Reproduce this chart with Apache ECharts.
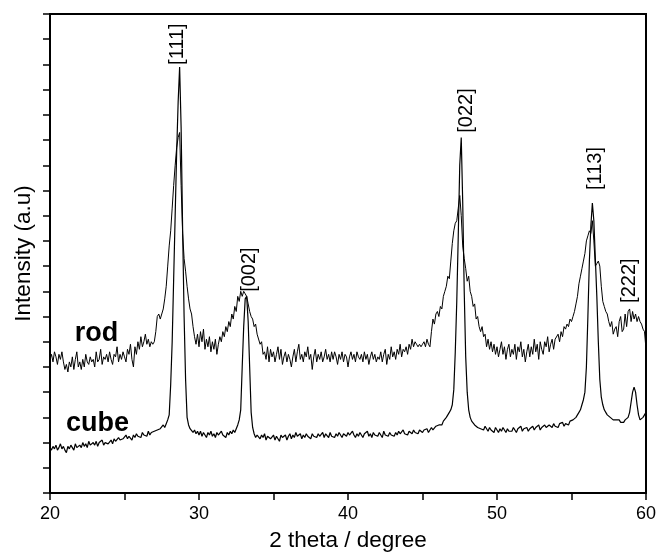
<!DOCTYPE html>
<html>
<head>
<meta charset="utf-8">
<script src="https://cdn.jsdelivr.net/npm/echarts@6/dist/echarts.min.js"></script>
<style>
  html, body { margin: 0; padding: 0; background: #fff; }
  #main { width: 658px; height: 555px; }
</style>
</head>
<body>
<div id="main"></div>
<script>
// scan grid: 2theta from 20 to 60 deg, 0.1 deg step
var thetaStart = 20, thetaStep = 0.1;

// rod pattern (a.u.), one row per degree
var rod = [
  5.3, 5.5, 5.2, 5.6, 5.4, 5.1, 5.5, 5.3, 5.6, 5.2,
  4.9, 5.1, 4.8, 5.2, 5.0, 5.4, 4.9, 5.3, 5.6, 5.0,
  5.2, 4.9, 5.3, 5.0, 5.5, 5.2, 5.1, 5.4, 5.2, 5.3,
  5.0, 5.6, 5.2, 5.3, 5.7, 5.1, 5.4, 5.3, 5.5, 5.2,
  5.6, 5.3, 5.1, 5.5, 5.4, 5.8, 5.2, 5.5, 5.3, 5.6,
  5.4, 5.2, 5.7, 5.5, 5.9, 5.3, 5.0, 5.8, 5.5, 6.0,
  5.7, 6.2, 5.8, 6.0, 6.3, 5.9, 6.1, 5.8, 6.0, 5.9,
  6.0, 6.4, 7.0, 7.1, 6.9, 7.1, 7.3, 7.7, 8.2, 9.0,
  9.8, 10.4, 11.3, 12.2, 13.0, 13.7, 14.1, 14.3, 12.2, 10.3,
  9.3, 8.8, 8.2, 7.7, 7.3, 7.1, 6.6, 6.2, 5.9, 6.3,
  5.8, 6.4, 6.0, 6.5, 5.7, 6.1, 5.8, 6.2, 5.6, 6.0,
  5.7, 6.1, 5.5, 5.9, 6.2, 6.0, 6.4, 6.2, 6.6, 6.4,
  6.8, 6.6, 7.1, 6.9, 7.4, 7.2, 7.8, 7.6, 8.0, 7.8,
  8.0, 7.9, 7.8, 7.5, 7.2, 7.0, 6.9, 6.6, 6.7, 6.3,
  6.3, 5.9, 6.0, 5.5, 5.6, 5.3, 5.8, 5.2, 5.7, 5.4,
  5.6, 5.2, 5.5, 5.8, 5.3, 5.7, 5.1, 5.4, 5.6, 5.2,
  5.5, 5.3, 5.0, 5.4, 5.7, 5.2, 5.6, 5.9, 5.3, 5.5,
  5.2, 5.6, 5.4, 5.8, 5.3, 5.5, 4.9, 5.4, 5.7, 5.2,
  5.5, 5.3, 5.6, 5.2, 5.4, 5.7, 5.3, 5.5, 5.2, 5.6,
  5.3, 5.6, 5.4, 5.1, 5.5, 5.3, 5.6, 5.2, 5.5, 5.4,
  5.0, 5.4, 5.6, 5.3, 5.5, 5.2, 5.6, 5.4, 5.3, 5.5,
  5.2, 5.6, 5.3, 5.5, 5.1, 5.4, 5.6, 5.3, 5.5, 5.2,
  5.4, 5.3, 5.6, 5.2, 5.5, 5.7, 5.1, 5.5, 5.3, 5.8,
  5.4, 5.6, 5.3, 5.7, 5.5, 5.9, 5.4, 5.7, 5.6, 5.8,
  5.5, 5.9, 5.7, 6.1, 5.8, 6.0, 5.9, 5.8, 5.9, 5.8,
  5.9, 6.0, 5.8, 6.1, 5.9, 5.8, 6.4, 6.9, 6.7, 7.1,
  7.2, 7.0, 7.4, 7.3, 7.8, 8.0, 8.2, 8.6, 8.5, 9.2,
  9.9, 10.4, 10.7, 10.8, 11.3, 11.8, 11.0, 9.8, 9.3, 8.9,
  8.4, 8.6, 8.0, 7.8, 7.4, 7.5, 6.9, 7.0, 6.6, 6.4,
  6.6, 6.2, 6.3, 5.8, 6.1, 5.7, 6.0, 5.6, 5.9, 5.5,
  5.8, 5.4, 5.7, 6.0, 5.5, 5.8, 5.3, 5.7, 5.9, 5.4,
  5.7, 5.5, 5.9, 5.3, 5.8, 5.6, 6.0, 5.4, 5.7, 5.2,
  5.6, 5.9, 5.4, 5.8, 5.5, 6.1, 5.6, 5.9, 5.3, 6.0,
  5.7, 5.5, 6.0, 5.8, 6.2, 5.6, 5.9, 6.1, 5.7, 6.1,
  6.1, 6.3, 6.0, 6.4, 6.2, 6.6, 6.5, 6.7, 6.6, 6.9,
  6.8, 7.0, 7.2, 7.5, 7.8, 8.3, 8.6, 8.9, 9.2, 9.5,
  10.0, 10.2, 10.4, 10.3, 10.8, 10.0, 9.0, 9.1, 9.2, 9.0,
  8.2, 7.6, 7.4, 7.2, 7.1, 6.8, 6.6, 6.8, 6.3, 6.5,
  6.6, 6.2, 6.8, 7.0, 6.4, 6.5, 7.1, 6.6, 7.2, 7.3,
  6.8, 7.2, 6.9, 7.1, 6.8, 7.0, 6.8, 6.7, 6.5, 6.4,
  5.7
];

// cube pattern (a.u.)
var cube = [
  1.8, 1.7, 1.85, 1.75, 1.9, 1.7, 1.8, 1.95, 1.75, 1.85,
  1.7, 1.6, 1.85, 1.75, 1.9, 1.8, 1.7, 1.95, 1.8, 1.85,
  1.9, 1.8, 2.0, 1.85, 1.95, 1.8, 2.05, 1.9, 1.85, 2.0,
  1.9, 2.05, 1.85, 2.0, 1.95, 2.1, 1.9, 2.0, 2.05, 1.95,
  2.0, 2.1, 1.95, 2.15, 2.05, 2.0, 2.2, 2.1, 2.05, 2.15,
  2.1, 2.3, 2.15, 2.25, 2.2, 2.1, 2.3, 2.2, 2.35, 2.25,
  2.3, 2.2, 2.4, 2.3, 2.35, 2.25, 2.45, 2.3, 2.4, 2.35,
  2.45, 2.4, 2.5, 2.45, 2.55, 2.5, 2.7, 2.6, 2.75, 2.9,
  3.1, 4.3, 6.0, 8.5, 11.0, 13.5, 15.5, 16.9, 14.5, 10.5,
  7.0, 4.5, 3.0, 2.7, 2.55, 2.6, 2.4, 2.5, 2.35, 2.45,
  2.3, 2.45, 2.25, 2.4, 2.3, 2.2, 2.4, 2.3, 2.45, 2.25,
  2.35, 2.2, 2.4, 2.3, 2.25, 2.45, 2.3, 2.35, 2.2, 2.4,
  2.3, 2.45, 2.35, 2.5, 2.4, 2.55, 2.7, 2.9, 3.3, 5.0,
  6.6, 7.7, 7.8, 6.8, 5.0, 3.2, 2.6, 2.35, 2.2, 2.3,
  2.25, 2.15, 2.3, 2.2, 2.35, 2.1, 2.25, 2.3, 2.15, 2.2,
  2.3, 2.1, 2.25, 2.2, 2.05, 2.3, 2.2, 2.15, 2.3, 2.1,
  2.25, 2.35, 2.15, 2.3, 2.2, 2.4, 2.25, 2.2, 2.35, 2.15,
  2.3, 2.2, 2.35, 2.25, 2.3, 2.15, 2.35, 2.25, 2.3, 2.2,
  2.35, 2.25, 2.3, 2.4, 2.2, 2.35, 2.3, 2.2, 2.4, 2.25,
  2.3, 2.2, 2.35, 2.25, 2.4, 2.3, 2.2, 2.35, 2.3, 2.25,
  2.4, 2.3, 2.25, 2.45, 2.3, 2.2, 2.35, 2.25, 2.4, 2.3,
  2.2, 2.35, 2.3, 2.45, 2.25, 2.35, 2.2, 2.4, 2.3, 2.35,
  2.25, 2.4, 2.3, 2.2, 2.45, 2.3, 2.35, 2.25, 2.4, 2.3,
  2.35, 2.25, 2.4, 2.3, 2.45, 2.35, 2.3, 2.5, 2.35, 2.4,
  2.3, 2.45, 2.4, 2.35, 2.5, 2.4, 2.45, 2.35, 2.5, 2.45,
  2.4, 2.5, 2.45, 2.55, 2.4, 2.5, 2.6, 2.5, 2.55, 2.65,
  2.6, 2.7, 2.75, 2.7, 2.85, 2.9, 3.0, 3.1, 3.2, 3.3,
  3.5, 4.1, 5.6, 7.6, 10.2, 13.0, 14.1, 11.5, 8.0, 5.4,
  4.0, 3.3, 3.0, 2.85, 2.8, 2.7, 2.75, 2.6, 2.65, 2.55,
  2.6, 2.5, 2.65, 2.55, 2.45, 2.6, 2.5, 2.55, 2.4, 2.6,
  2.5, 2.4, 2.55, 2.45, 2.6, 2.5, 2.4, 2.55, 2.45, 2.5,
  2.45, 2.6, 2.5, 2.4, 2.55, 2.5, 2.65, 2.45, 2.55, 2.5,
  2.6, 2.45, 2.55, 2.5, 2.65, 2.5, 2.6, 2.55, 2.7, 2.5,
  2.6, 2.55, 2.7, 2.6, 2.55, 2.7, 2.65, 2.6, 2.75, 2.65,
  2.7, 2.6, 2.75, 2.7, 2.8, 2.65, 2.75, 2.8, 2.7, 2.85,
  2.8, 2.9, 2.95, 3.0, 3.1, 3.2, 3.3, 3.5, 3.7, 4.0,
  5.0, 7.0, 9.2, 10.6, 11.5, 10.8, 9.3, 7.8, 6.0, 4.5,
  3.8, 3.5, 3.3, 3.2, 3.1, 3.05, 3.0, 2.95, 2.9, 2.95,
  2.9, 2.85, 2.9, 2.8, 2.85, 2.8, 2.9, 2.85, 3.0, 3.2,
  3.6, 4.0, 4.2, 4.0, 3.5, 3.1, 2.9, 2.85, 3.0, 3.1,
  3.2
];

// reflection labels and where they sit (2theta, intensity)
var peakNames = ['[111]', '[002]', '[022]', '[113]', '[222]'];
var peakX = [28.56, 33.42, 47.95, 56.58, 58.86];
var peakY = [16.98, 7.98, 14.29, 12.02, 7.54];

var sampleNames = ['rod', 'cube'];
var sampleX = [23.12, 23.19];
var sampleY = [6.33, 2.75];

var xTicks = [20, 30, 40, 50, 60];

var FONT = "'Liberation Sans', Arial, sans-serif";

function toPairs(arr) {
    var out = [];
    for (var i = 0; i < arr.length; i++) {
        out.push([+(thetaStart + i * thetaStep).toFixed(1), arr[i]]);
    }
    return out;
}

var peakMarks = peakNames.map(function (n, i) {
    return { name: n, coord: [peakX[i], peakY[i]] };
});

function sampleMark(i) {
    return [{ name: sampleNames[i], coord: [sampleX[i], sampleY[i]] }];
}

var chart = echarts.init(document.getElementById('main'), null, { renderer: 'canvas' });

var option = {
    animation: false,
    backgroundColor: '#fff',
    grid: {
        left: 50, right: 12, top: 14, bottom: 62,
        containLabel: false,
        outerBoundsMode: 'none',
        show: true, borderColor: '#000', borderWidth: 2
    },
    xAxis: {
        type: 'value',
        min: xTicks[0], max: xTicks[xTicks.length - 1], interval: 10,
        name: '2 theta / degree',
        nameLocation: 'middle',
        nameGap: 36,
        nameTextStyle: { fontFamily: FONT, fontSize: 22.5, color: '#000' },
        axisLine: { lineStyle: { color: '#000', width: 2 } },
        axisTick: { length: 7, lineStyle: { color: '#000', width: 1.5 } },
        minorTick: { show: true, splitNumber: 2, length: 7, lineStyle: { color: '#000', width: 1.5 } },
        axisLabel: { fontFamily: FONT, fontSize: 18, color: '#000', margin: 12 },
        splitLine: { show: false }
    },
    yAxis: {
        type: 'value',
        min: 0, max: 19, interval: 1,
        name: 'Intensity (a.u)',
        nameLocation: 'middle',
        nameGap: 15,
        nameTextStyle: { fontFamily: FONT, fontSize: 22.5, color: '#000' },
        axisLine: { show: true, lineStyle: { color: '#000', width: 2 } },
        axisTick: { show: true, length: 7, lineStyle: { color: '#000', width: 1.5 } },
        axisLabel: { show: false },
        splitLine: { show: false }
    },
    series: [
        {
            name: 'rod',
            type: 'line',
            data: toPairs(rod),
            showSymbol: false,
            sampling: null,
            lineStyle: { color: '#000', width: 1 },
            markPoint: {
                symbol: 'circle', symbolSize: 0,
                label: {
                    show: true, position: 'inside', formatter: '{b}',
                    fontFamily: FONT, fontSize: 27, fontWeight: 'bold', color: '#000'
                },
                data: sampleMark(0)
            },
            z: 2
        },
        {
            name: 'cube',
            type: 'line',
            data: toPairs(cube),
            showSymbol: false,
            sampling: null,
            lineStyle: { color: '#000', width: 1.2 },
            markPoint: {
                symbol: 'circle', symbolSize: 0,
                label: {
                    show: true, position: 'inside', formatter: '{b}',
                    fontFamily: FONT, fontSize: 27, fontWeight: 'bold', color: '#000'
                },
                data: sampleMark(1)
            },
            z: 3
        },
        {
            // reflection indices, drawn on an empty series
            name: 'peaks',
            type: 'line',
            data: [],
            markPoint: {
                symbol: 'circle', symbolSize: 0,
                label: {
                    show: true, position: 'inside', formatter: '{b}',
                    rotate: 90, align: 'left', verticalAlign: 'middle',
                    fontFamily: FONT, fontSize: 20, color: '#000'
                },
                data: peakMarks
            }
        }
    ]
};

chart.setOption(option);
</script>
</body>
</html>
